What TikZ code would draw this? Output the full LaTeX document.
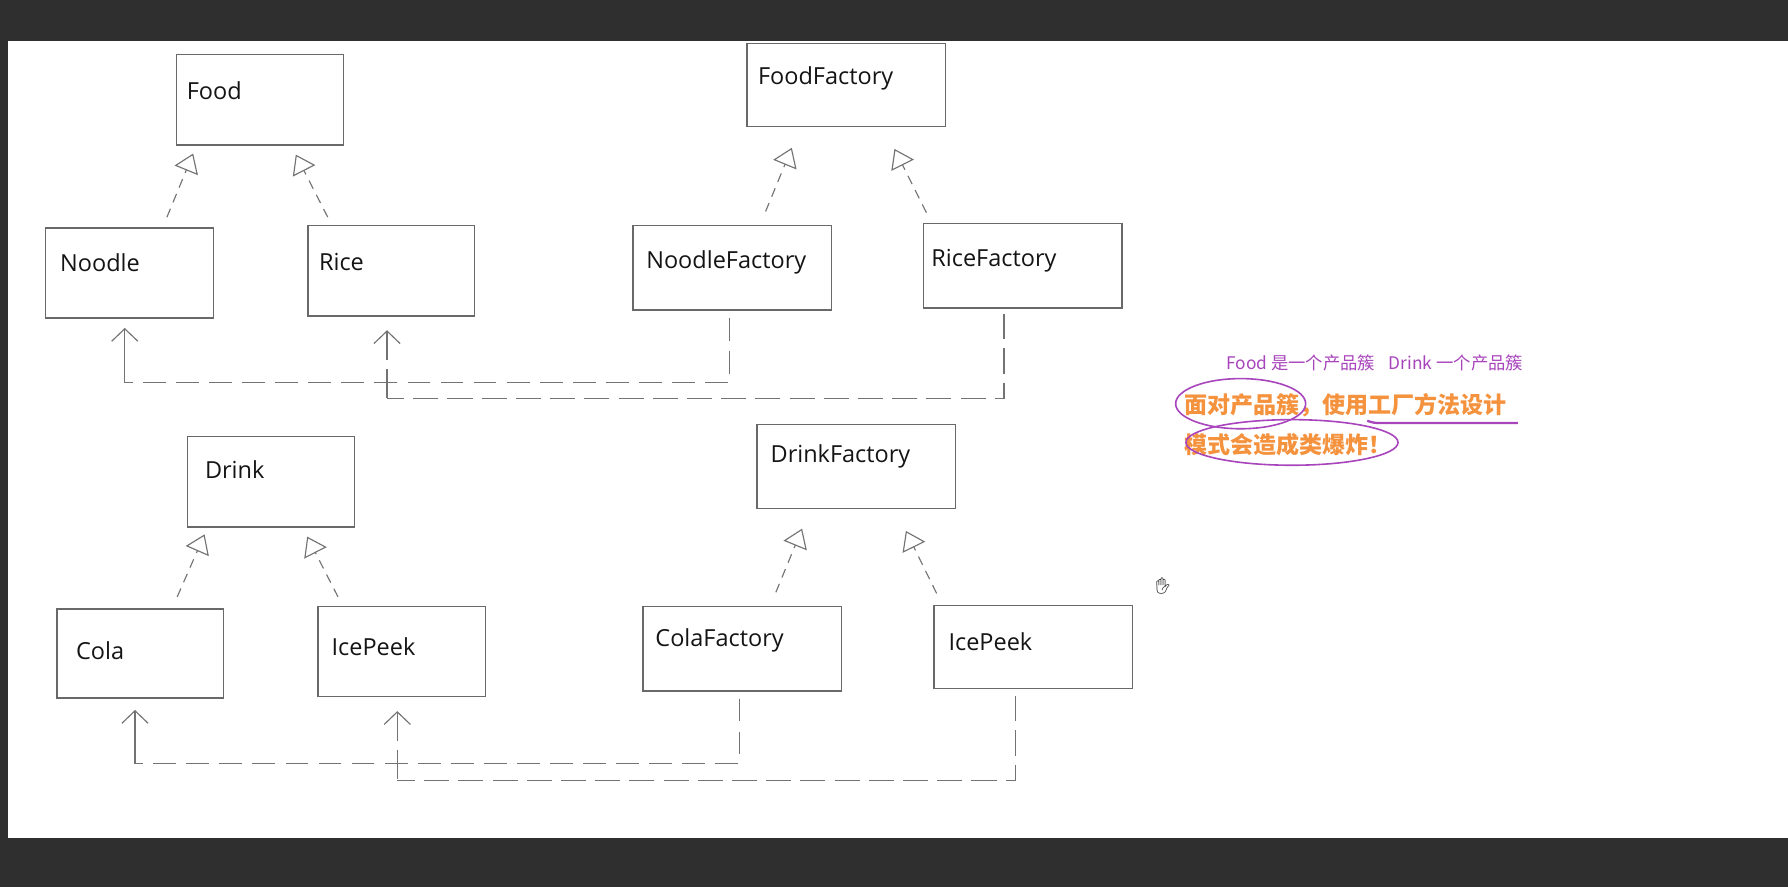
\documentclass[tikz,border=0pt]{standalone}
\usepackage{fontspec}
\setmainfont{Open Sans}
\newfontfamily\cjk{Noto Sans CJK SC}
\newfontfamily\emo{Noto Emoji}
\usetikzlibrary{arrows.meta,calc,fit,shapes.geometric}
\definecolor{darkbg}{RGB}{47,47,47}
\definecolor{boxline}{RGB}{105,105,105}
\definecolor{lgray}{RGB}{115,115,115}
\definecolor{txt}{RGB}{20,20,20}
\definecolor{purp}{RGB}{168,68,188}
\definecolor{orng}{RGB}{245,146,62}
\tikzset{
  box/.style={draw=boxline, line width=0.6pt, inner sep=0pt, rectangle},
  lbl/.style={anchor=west, inner sep=0pt, text=txt, font=\fontsize{10.3}{12}\selectfont},
  impl/.style={draw=lgray, line width=0.5pt, dash pattern=on 4pt off 3pt,
     -{Triangle[open, length=8pt, width=11pt, line width=0.5pt]}},
  dlineA/.style={draw=lgray, line width=0.5pt, dash pattern=on 10pt off 4.5pt},
  dlineB/.style={draw=lgray, line width=0.5pt, dash pattern=on 11pt off 4pt},
  assoc/.style={draw=lgray, line width=0.5pt, -{Straight Barb[length=5.5pt, width=11.5pt, line width=0.5pt]}},
  assocr/.style={draw=lgray, line width=0.5pt, dash pattern=on 12.5pt off 4pt, {Straight Barb[length=5.5pt, width=11.5pt, line width=0.5pt]}-},
}
\begin{document}
\begin{tikzpicture}[x=0.5pt, y=-0.5pt]
\useasboundingbox (0,0) rectangle (1568,778);
\fill[darkbg] (0,0) rectangle (1568,778);
\fill[white] (7,36) rectangle (1568,735);

% Food group
\node[box, fit={(155,48) (301,127)}] (food) {};
\node[lbl] (foodT) at ($(food.north west)+(9,32)$) {Food};
\node[box, fit={(40,200) (187,279)}] (noodle) {};
\node[lbl] (noodleT) at ($(noodle.north west)+(13,31)$) {Noodle};
\node[box, fit={(270,198) (416,277)}] (rice) {};
\node[lbl] (riceT) at ($(rice.north west)+(10,32)$) {Rice};

\node[box, fit={(655,38) (829,111)}] (ff) {};
\node[lbl] (ffT) at ($(ff.north west)+(10,31)$) {FoodFactory};
\node[box, fit={(555,198) (729,272)}] (nf) {};
\node[lbl] (nfT) at ($(nf.north west)+(12,33)$) {NoodleFactory};
\node[box, fit={(810,196) (984,270)}] (rf) {};
\node[lbl] (rfT) at ($(rf.north west)+(7,33)$) {RiceFactory};

\draw[impl] ($(noodle.north west)+(107,-9)$) -- ($(food.south west)+(15,7)$);
\draw[impl] ($(rice.north west)+(18,-7)$) -- ($(food.south west)+(105,8)$);
\draw[impl] ($(nf.north west)+(117,-12)$) -- ($(ff.south west)+(40,18)$);
\draw[impl] ($(rf.north west)+(3,-9)$) -- ($(ff.south west)+(130,19)$);

\coordinate (c1) at ($(noodle.south west)+(70,56)$);
\draw[dlineA] ($(nf.south west)+(85,6)$) |- (c1);
\draw[assoc] (c1) -- ($(noodle.south west)+(70,8)$);
\coordinate (c2) at ($(rice.south west)+(70,72)$);
\draw[dlineB] ($(rf.south west)+(71,5)$) |- (c2);
\draw[assocr] ($(rice.south west)+(70,12)$) -- (c2);

% Drink group
\node[box, fit={(164.5,383) (311,462)}] (drink) {};
\node[lbl] (drinkT) at ($(drink.north west)+(15.5,29)$) {Drink};
\node[box, fit={(50,534) (196,612)}] (cola) {};
\node[lbl] (colaT) at ($(cola.north west)+(17,37)$) {Cola};
\node[box, fit={(279,532) (426,611)}] (ice) {};
\node[lbl] (iceT) at ($(ice.north west)+(12,36)$) {IcePeek};

\node[box, fit={(664,372) (838,446)}] (df) {};
\node[lbl] (dfT) at ($(df.north west)+(12,29)$) {DrinkFactory};
\node[box, fit={(564,532) (738,606)}] (cf) {};
\node[lbl] (cfT) at ($(cf.north west)+(11,30)$) {ColaFactory};
\node[box, fit={(819,531) (993,604)}] (if) {};
\node[lbl] (ifT) at ($(if.north west)+(13,32)$) {IcePeek};

\draw[impl] ($(cola.north west)+(106,-10)$) -- ($(drink.south west)+(15.5,6)$);
\draw[impl] ($(ice.north west)+(18,-8)$) -- ($(drink.south west)+(105.5,8)$);
\draw[impl] ($(cf.north west)+(117,-12)$) -- ($(df.south west)+(40,17)$);
\draw[impl] ($(if.north west)+(3,-10)$) -- ($(df.south west)+(131,19)$);

\coordinate (c3) at ($(cola.south west)+(69,57)$);
\draw[dlineA] ($(cf.south west)+(85,6)$) |- (c3);
\draw[assoc] (c3) -- ($(cola.south west)+(69,10)$);
\coordinate (c4) at ($(ice.south west)+(70,72.5)$);
\draw[dlineB] ($(if.south west)+(72,6)$) |- (c4);
\draw[assocr] ($(ice.south west)+(70,12)$) -- (c4);

% annotations
\node[anchor=west, inner sep=0pt, text=purp, font=\cjk\fontsize{7.6}{9}\selectfont] (note1) at (1075,318) {Food 是一个产品簇\hspace{6pt}Drink 一个产品簇};
\node[anchor=west, inner sep=0pt, text=orng, font=\cjk\bfseries\fontsize{10.1}{12}\selectfont] (note2) at (1038,355) {面对产品簇，使用工厂方法设计};
\node[anchor=west, inner sep=0pt, text=orng, font=\cjk\bfseries\fontsize{10.1}{12}\selectfont] (note3) at (1038,390) {模式会造成类爆炸！};
\node[draw=purp, line width=0.7pt, ellipse, minimum width=57pt, minimum height=22pt, inner sep=0pt] (el1) at (1088,354) {};
\node[draw=purp, line width=0.7pt, ellipse, minimum width=93pt, minimum height=20pt, inner sep=0pt] (el2) at (1133,388) {};
\coordinate (u1) at (1199,369);
\coordinate (u2) at (1331,371);
\draw[purp, line width=1pt] (u1) .. controls (1205,371) .. (1215,371) -- (u2);
\node[inner sep=0pt, text=txt, font=\emo\fontsize{7}{8}\selectfont] (hand) at (1020,514) {✋};
\end{tikzpicture}
\end{document}
